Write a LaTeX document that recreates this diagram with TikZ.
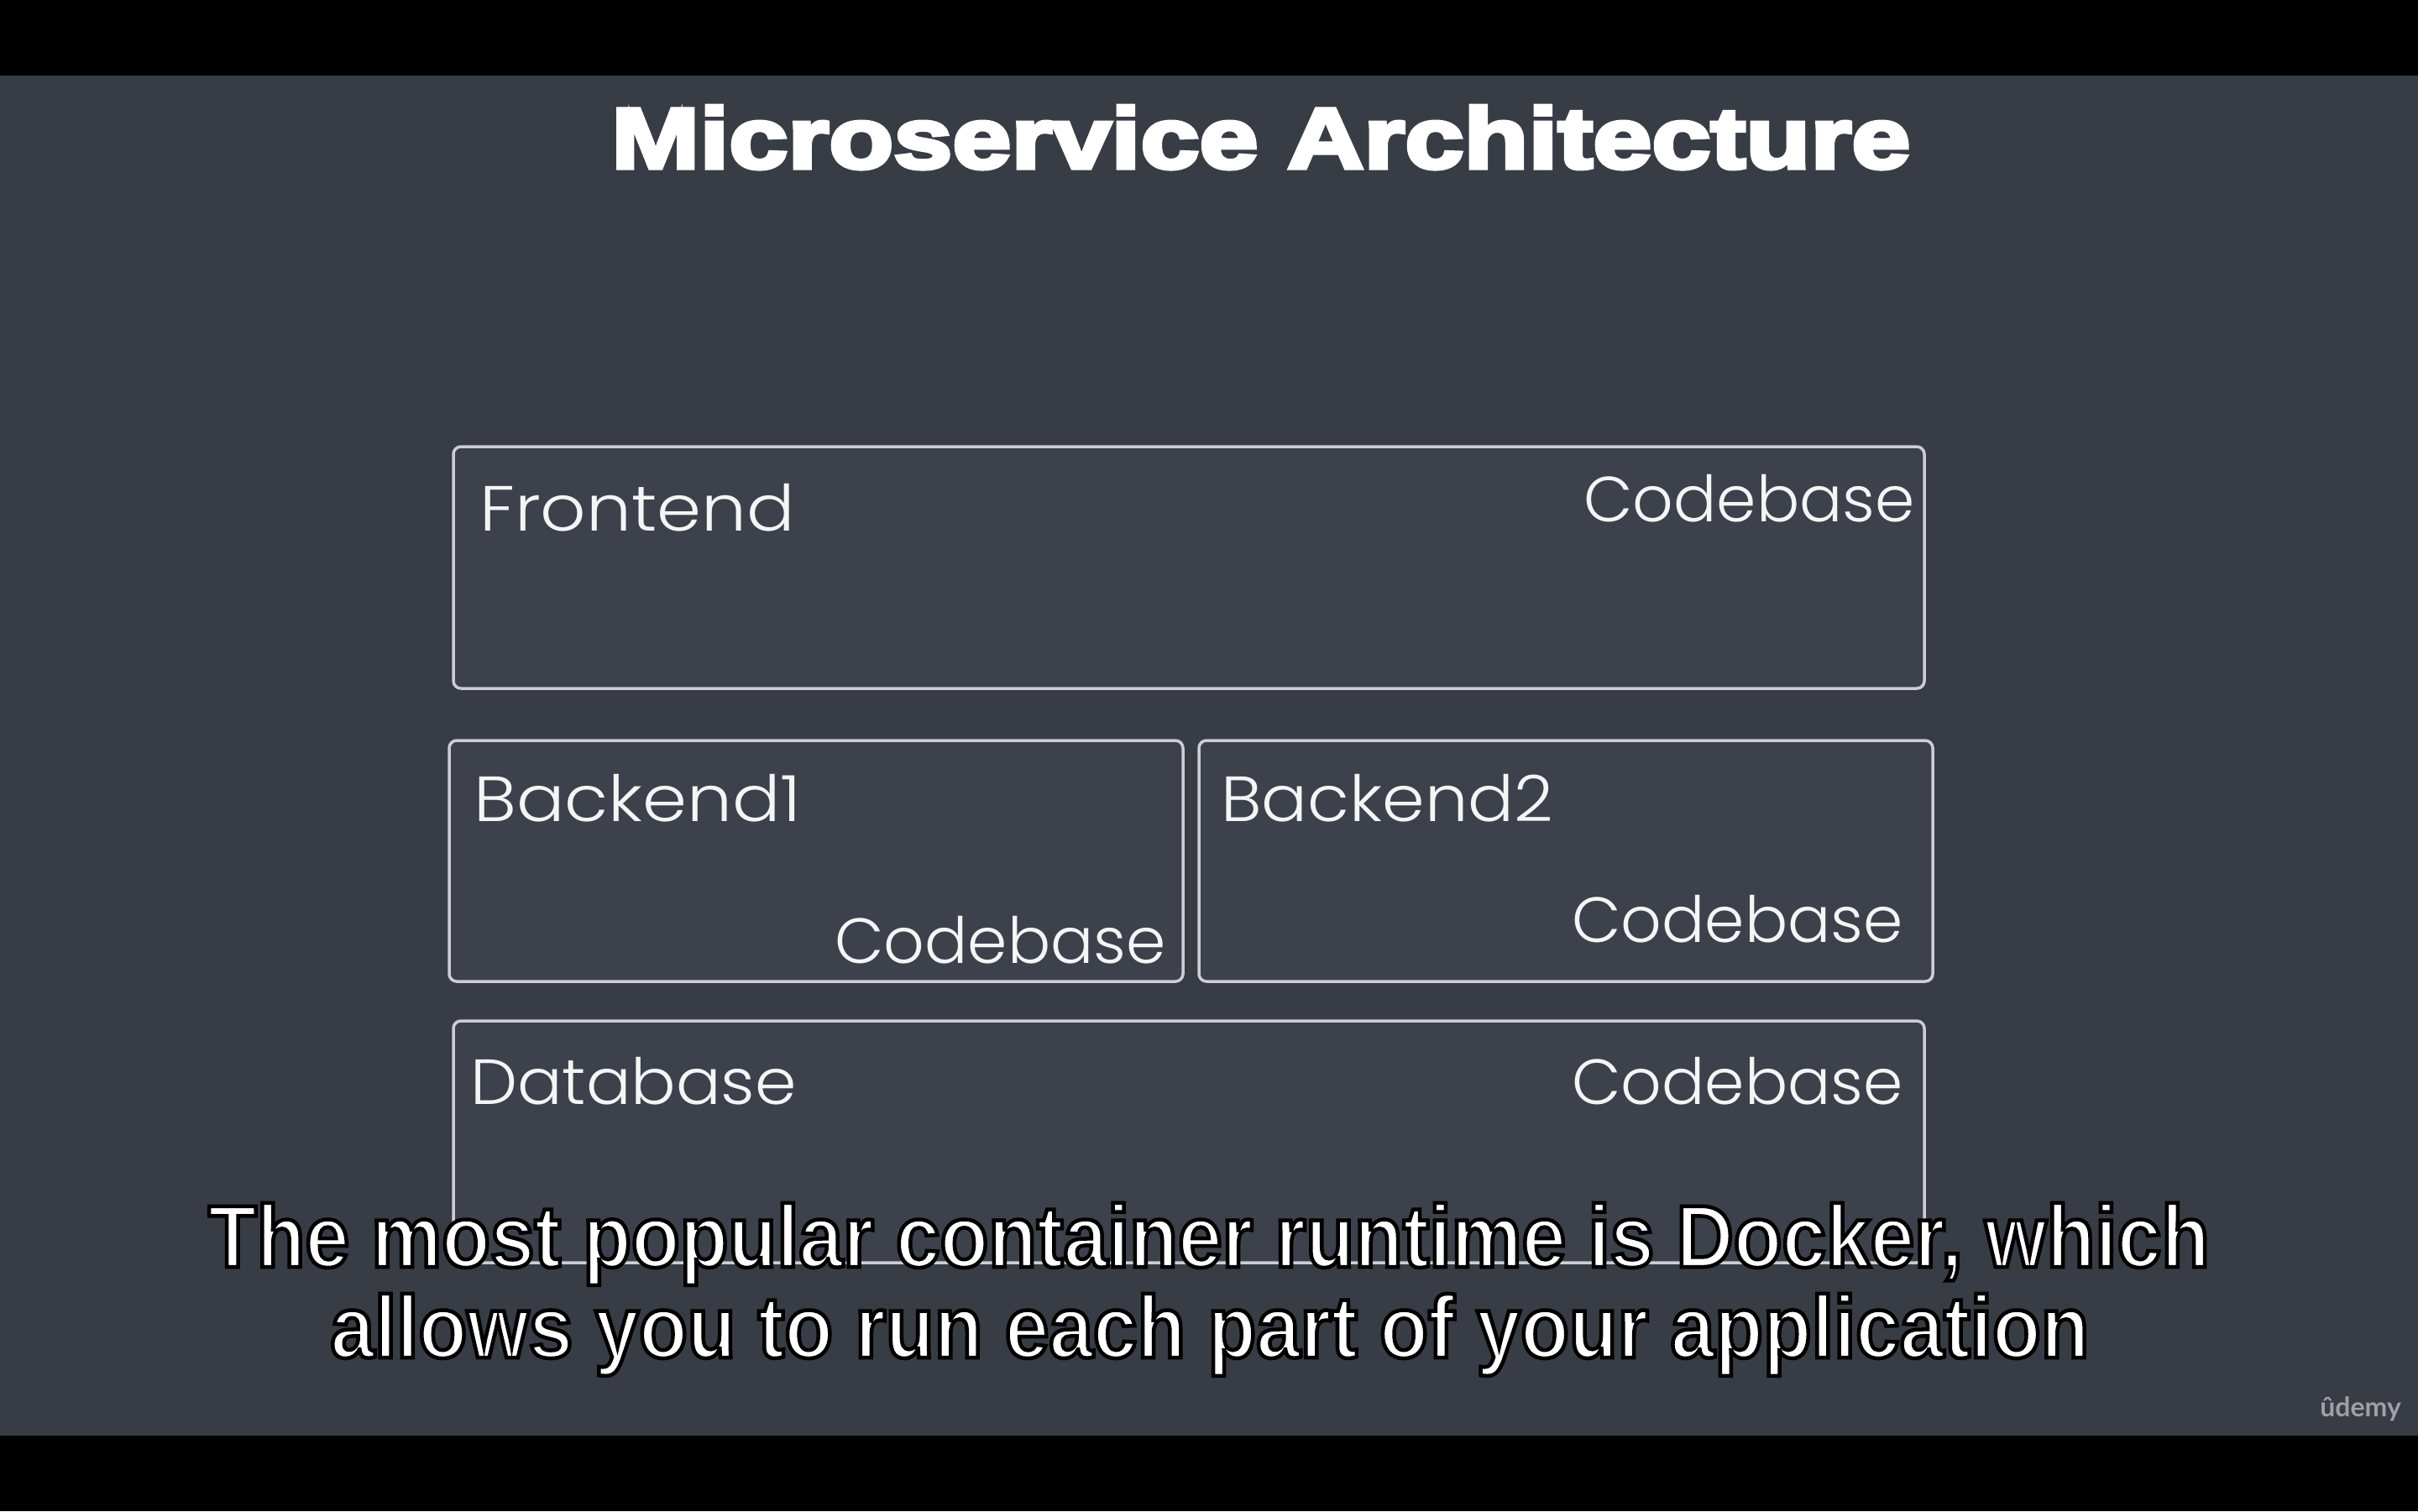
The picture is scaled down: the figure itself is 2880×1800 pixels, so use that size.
\documentclass[tikz,border=0pt]{standalone}
\usepackage{fontspec}
\setmainfont{Liberation Sans}
\newfontfamily\titlefont[FakeBold=5,FakeStretch=1.235]{Liberation Sans Bold}
\newfontfamily\boxfont[UprightFont=* Light]{Poppins}
\newfontfamily\boxwide[UprightFont=* Light,FakeStretch=1.12]{Poppins}
\newfontfamily\boxmid[UprightFont=* Light,FakeStretch=1.045]{Poppins}
\newfontfamily\boxtwo[UprightFont=* Light,FakeStretch=1.07]{Poppins}
\newfontfamily\capfont[FakeStretch=0.9]{Liberation Sans Bold}
\newfontfamily\logofont{Lato}
\definecolor{slide}{HTML}{383C45}
\definecolor{panel}{HTML}{3C414B}
\definecolor{edge}{HTML}{CBCED3}
\definecolor{ink}{HTML}{F4F5F6}
\definecolor{logo}{HTML}{9DA0A6}
\newcommand{\outlined}[1]{\special{pdf:code 2 Tr 4.5 w 0 0 0 RG}#1\special{pdf:code 0 Tr 1 w}}
\tikzset{
  svcbox/.style={draw=edge,fill=panel,line width=3.5pt,rounded corners=9pt,anchor=north west,inner sep=0pt,outer sep=0pt},
  lbl/.style={text=ink,inner sep=0pt,font=\boxfont\fontsize{76}{80}\selectfont},
  lblW/.style={text=ink,inner sep=0pt,anchor=base west,font=\boxwide\fontsize{76}{80}\selectfont},
  lblM/.style={text=ink,inner sep=0pt,anchor=base west,font=\boxmid\fontsize{76}{80}\selectfont},
  lblT/.style={text=ink,inner sep=0pt,anchor=base west,font=\boxtwo\fontsize{76}{80}\selectfont},
  lblR/.style={lbl,anchor=base east},
  caption/.style={text=white,inner sep=0pt,anchor=base,font=\capfont\fontsize{105}{110}\selectfont}
}
\begin{document}
\begin{tikzpicture}[x=1pt,y=-1pt]
\useasboundingbox (0,0) rectangle (2880,1800);
\fill[black] (0,0) rectangle (2880,1800);
\fill[slide] (0,90) rectangle (2880,1710);
\node[text=white,inner sep=0pt,anchor=base,font=\titlefont\fontsize{102}{106}\selectfont] (title) at (1502,200) {Microservice Architecture};
\node[svcbox,minimum width=1752pt,minimum height=288pt] (frontend) at (540,532) {};
\node[svcbox,minimum width=874pt,minimum height=287pt] (backendone) at (535,882) {};
\node[svcbox,minimum width=874pt,minimum height=287pt] (backendtwo) at (1428,882) {};
\node[svcbox,minimum width=1752pt,minimum height=288pt] (database) at (540,1216) {};
\node[lblW] (ftext) at (571,632) {Frontend};
\node[lblR] (fcode) at (2281,621) {Codebase};
\node[lblW] (bonetext) at (564,978) {Backend1};
\node[lblR] (bonecode) at (1389,1147) {Codebase};
\node[lblT] (btwotext) at (1454,978) {Backend2};
\node[lblR] (btwocode) at (2267,1122) {Codebase};
\node[lblM] (dtext) at (560,1315) {Database};
\node[lblR] (dcode) at (2267,1315) {Codebase};
\node[caption] (capone) at (1440,1509) {\outlined{The most popular container runtime is Docker, which}};
\node[caption] (captwo) at (1441,1617) {\outlined{allows you to run each part of your application}};
\node[text=logo,inner sep=0pt,anchor=base east,font=\logofont\bfseries\fontsize{32}{34}\selectfont] (udemy) at (2860,1687) {ûdemy};
\end{tikzpicture}
\end{document}
